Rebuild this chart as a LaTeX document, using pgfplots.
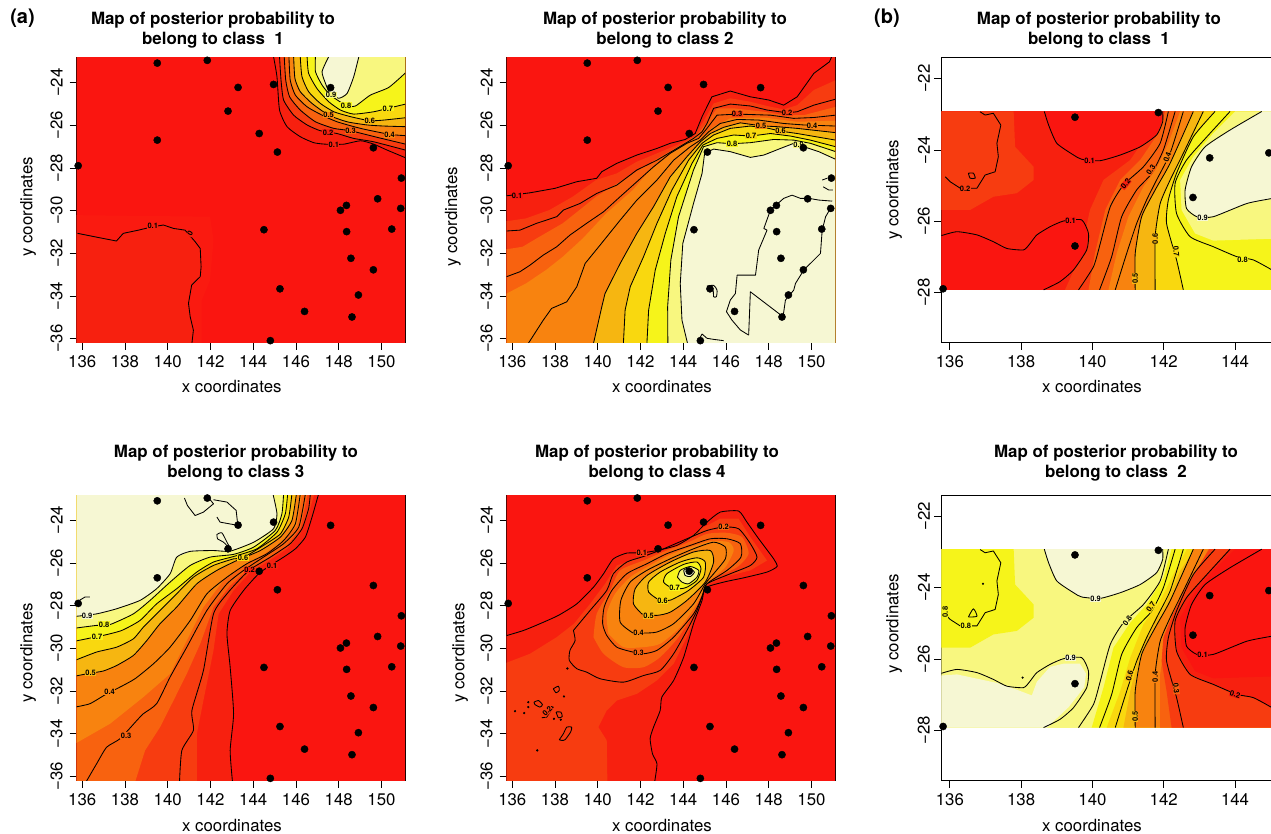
\documentclass[border=0pt]{standalone}
\usepackage{fontspec}
\setmainfont{TeX Gyre Heros}
\usepackage{pgfplots}
\pgfplotsset{compat=1.18}
\definecolor{cz}{HTML}{FA1510}
\definecolor{cy}{HTML}{FA1A10}
\definecolor{ca}{HTML}{F7200F}
\definecolor{cb}{HTML}{F73C10}
\definecolor{cc}{HTML}{F8620F}
\definecolor{cd}{HTML}{F8830F}
\definecolor{ce}{HTML}{F6B611}
\definecolor{cf}{HTML}{F9D80F}
\definecolor{cg}{HTML}{F6F41A}
\definecolor{ch}{HTML}{F8F77F}
\definecolor{ci}{HTML}{F6F7D3}
\newcommand{\lblfont}{\fontsize{16.8}{19}\selectfont}
\newcommand{\ttlfont}{\fontsize{16.9}{20}\selectfont\bfseries}
\newcommand{\ctrfont}{\fontsize{7.5}{8}\selectfont\bfseries}
\def\firstpt(#1)#2\firstptstop{(#1)}
\newcommand{\fillp}[2]{\edef\tmpplot{\noexpand\addplot[draw=none,fill=#1,forget plot] coordinates {#2} --cycle;}\tmpplot}
\newcommand{\fillc}[2]{\edef\tmpplot{\noexpand\addplot[draw=none,fill=#1,smooth,tension=.4,forget plot] coordinates {#2 \expandafter\firstpt#2\firstptstop};}\tmpplot}
\newcommand{\ctr}[1]{\edef\tmpplot{\noexpand\addplot[black,line width=.85pt,line join=round,smooth,tension=.35,forget plot] coordinates {#1};}\tmpplot}
\newcommand{\ctrs}[1]{\edef\tmpplot{\noexpand\addplot[black,line width=.85pt,line join=round,forget plot] coordinates {#1};}\tmpplot}
\newcommand{\ctrc}[1]{\edef\tmpplot{\noexpand\addplot[black,line width=.85pt,line join=round,smooth,tension=.4,forget plot] coordinates {#1 \expandafter\firstpt#1\firstptstop};}\tmpplot}
\newcommand{\pts}[1]{\edef\tmpplot{\noexpand\addplot[only marks,mark=*,mark size=3.6pt,black,forget plot] coordinates {#1};}\tmpplot}
\newcommand{\lab}[4][0]{\node[font=\ctrfont,fill=#2,inner sep=.4pt,rotate=#1] at (axis cs:#3) {#4};}
\pgfplotsset{
 pan/.style={scale only axis,anchor=south west,axis line style={line width=1pt},
  tick style={black,line width=.8pt},tick align=outside,major tick length=7pt,
  xtick pos=bottom,ytick pos=left,
  ticklabel style={font=\lblfont},
  yticklabel style={rotate=90,anchor=south},
  xticklabel shift=2.5pt,
  title style={font=\ttlfont,align=center,anchor=center},
  xlabel style={font=\lblfont,anchor=center},
  ylabel style={font=\lblfont,anchor=center},
  xlabel={x coordinates},ylabel={y coordinates}},
 apan/.style={pan,width=328.3pt,height=285pt,xmin=135.74,xmax=151.1,ymin=-36.2,ymax=-22.84,
  yticklabel shift=3.5pt,
  xtick={136,138,140,142,144,146,148,150},xticklabels={136,138,140,142,144,146,148,150},
  ytick={-36,-34,-32,-30,-28,-26,-24},yticklabels={−36,−34,−32,−30,−28,−26,−24}},
 bpan/.style={pan,width=329.7pt,height=285pt,xmin=135.76,xmax=145.01,ymin=-29.41,ymax=-21.42,
  yticklabel shift=1pt,
  xtick={136,138,140,142,144},xticklabels={136,138,140,142,144},
  ytick={-28,-26,-24,-22},yticklabels={−28,−26,−24,−22}}
}
% observation sites
\def\ptsA{(135.81,-27.89)(139.51,-23.08)(141.85,-22.95)(143.29,-24.22)(142.82,-25.33)(144.95,-24.08)(144.28,-26.38)(139.51,-26.69)(145.13,-27.25)(147.62,-24.23)(149.62,-27.05)(150.93,-28.47)(149.82,-29.44)(150.9,-29.89)(148.36,-29.75)(148.08,-29.98)(148.37,-30.98)(144.5,-30.89)(150.48,-30.86)(148.57,-32.23)(149.62,-32.77)(145.25,-33.66)(148.92,-33.95)(146.4,-34.72)(148.62,-34.98)(144.8,-36.09)}
\def\ptsB{(135.81,-27.89)(139.51,-23.08)(141.85,-22.95)(143.29,-24.22)(142.82,-25.33)(144.95,-24.08)(139.51,-26.69)}
\def\full{(135,-22)(152,-22)(152,-37)(135,-37)}
% ---- panel a, class 1
\def\aoneLow{(135.78,-31.06)(136.83,-31.27)(137.6,-31.42)(137.92,-31.06)(138.63,-30.91)(139.3,-30.75)(139.8,-30.67)(140.27,-30.83)(140.81,-30.91)(141.28,-31.45)(141.52,-31.77)(141.56,-32.63)(141.52,-33.09)(141.12,-33.48)(140.97,-34.34)(141.05,-34.97)(141.2,-35.6)(141.12,-36.3)}
\def\aoneA{(144.95,-22.78)(145.11,-23.72)(145.23,-25.28)(145.58,-26.06)(146.2,-26.53)(146.83,-26.81)(147.38,-26.88)(148.23,-26.88)(149.02,-26.72)(149.64,-26.88)(150.27,-27.16)(151.13,-27.52)}
\def\aoneB{(145.23,-22.78)(145.3,-23.88)(145.42,-24.81)(145.89,-25.52)(146.52,-25.98)(147.14,-26.25)(147.92,-26.38)(148.7,-26.61)(149.64,-26.77)(151.13,-27.16)}
\def\aoneC{(145.45,-22.78)(145.52,-23.88)(145.7,-24.66)(146.2,-25.28)(146.91,-25.83)(147.77,-26.14)(148.55,-26.25)(149.8,-26.56)(151.13,-26.88)}
\def\aoneD{(145.67,-22.78)(145.73,-23.88)(145.97,-24.58)(146.52,-25.13)(147.22,-25.52)(147.92,-25.83)(149.02,-26.14)(150.38,-26.42)(151.13,-26.48)}
\def\aoneE{(145.89,-22.78)(145.95,-23.8)(146.2,-24.42)(146.75,-24.97)(147.53,-25.52)(148.39,-25.83)(149.33,-25.98)(150.11,-26.03)(151.13,-26.06)}
\def\aoneF{(146.2,-22.78)(146.28,-23.72)(146.59,-24.42)(147.14,-24.97)(147.77,-25.36)(148.55,-25.59)(149.45,-25.78)(150.11,-25.75)(151.13,-25.64)}
\def\aoneG{(146.52,-22.78)(146.59,-23.56)(146.98,-24.27)(147.53,-24.89)(148.08,-25.28)(148.7,-25.47)(149.64,-25.36)(150.3,-25.2)(151.13,-25.0)}
\def\aoneH{(146.91,-22.78)(146.91,-23.48)(147.22,-24.11)(147.61,-24.58)(148.34,-25.06)(148.78,-25.09)(149.48,-24.58)(150.34,-24.22)(151.13,-23.53)}
\def\aoneI{(147.53,-22.78)(147.22,-23.48)(147.38,-24.03)(147.58,-24.47)(148.0,-24.73)(148.39,-24.5)(148.7,-23.72)(148.94,-22.78)}
% ---- panel a, class 2
\def\atwoA{(135.74,-29.3)(135.97,-29.27)(136.83,-29.16)(138.0,-28.95)(139.02,-28.64)(139.95,-28.48)(140.19,-28.17)(140.89,-27.78)(141.83,-27.39)(142.77,-27.08)(143.39,-26.84)(144.09,-26.66)(144.56,-26.38)(144.88,-25.59)(145.34,-24.66)(146.2,-24.39)(147.14,-24.66)(148.0,-24.81)(148.7,-25.05)(149.33,-24.66)(150.11,-23.56)(150.84,-23.02)(150.98,-22.7)}
\def\atwoB{(135.74,-30.95)(136.36,-30.91)(137.14,-30.59)(138.08,-30.28)(138.39,-29.97)(139.17,-29.66)(139.95,-29.19)(140.89,-28.8)(141.83,-28.09)(142.77,-27.63)(143.7,-27.08)(144.48,-26.61)(144.88,-26.3)(145.11,-25.91)(145.42,-25.2)(146.2,-25.0)(147.14,-25.09)(147.92,-25.28)(148.86,-25.41)(149.33,-25.36)(150.11,-25.05)(151.13,-24.77)}
\def\atwoC{(135.74,-33.09)(136.36,-32.86)(136.83,-32.55)(137.45,-32.08)(138.08,-31.69)(138.7,-31.14)(139.48,-30.59)(140.27,-30.05)(141.05,-29.34)(141.83,-28.64)(142.61,-27.94)(143.39,-27.31)(144.17,-26.84)(144.72,-26.61)(145.11,-26.14)(145.58,-25.52)(146.52,-25.47)(148.08,-25.52)(149.17,-25.67)(150.11,-25.63)(151.13,-25.52)}
\def\atwoD{(136.75,-36.22)(137.45,-35.13)(137.84,-34.58)(138.55,-34.27)(139.02,-33.56)(139.41,-32.47)(140.11,-31.61)(141.05,-30.44)(141.83,-29.5)(142.77,-28.56)(143.55,-27.63)(144.33,-27.0)(144.8,-26.69)(145.19,-26.3)(145.73,-25.91)(146.52,-25.72)(147.53,-25.75)(148.7,-25.91)(149.64,-25.98)(151.13,-26.03)}
\def\atwoE{(139.8,-36.22)(140.19,-34.5)(140.34,-33.88)(141.05,-32.47)(141.83,-31.06)(142.61,-29.81)(143.39,-28.41)(144.17,-27.47)(144.8,-26.77)(145.27,-26.38)(145.89,-26.09)(146.67,-25.88)(147.64,-26.02)(148.39,-26.06)(149.33,-26.14)(151.13,-26.34)}
\def\atwoF{(141.2,-36.22)(141.28,-34.66)(141.52,-33.56)(142.14,-32.16)(142.77,-30.59)(143.47,-29.03)(144.25,-27.63)(144.88,-26.84)(145.42,-26.45)(146.2,-26.14)(147.14,-26.03)(148.0,-26.14)(148.55,-26.27)(149.33,-26.38)(151.13,-26.69)}
\def\atwoG{(142.3,-36.22)(142.38,-34.66)(142.69,-32.78)(143.16,-31.06)(143.7,-29.34)(144.41,-27.78)(144.92,-26.92)(145.58,-26.61)(146.36,-26.45)(147.17,-26.5)(148.08,-26.38)(149.02,-26.5)(149.95,-26.69)(151.13,-27.0)}
\def\atwoH{(143.28,-36.22)(143.27,-34.5)(143.42,-32.31)(143.78,-30.28)(144.48,-28.09)(144.95,-27.0)(145.58,-26.81)(146.28,-26.86)(147.14,-26.81)(148.23,-26.66)(149.17,-26.69)(149.95,-26.84)(151.13,-27.23)}
\def\atwoI{(144.2,-36.22)(143.94,-35.13)(143.86,-33.41)(143.98,-31.53)(144.48,-29.66)(144.88,-28.25)(145.0,-27.31)(145.42,-27.11)(146.2,-27.23)(147.14,-27.5)(147.77,-27.39)(148.55,-27.08)(149.17,-26.84)(149.64,-27.0)(150.34,-27.23)(151.13,-27.59)}
\def\atwoBa{(135,-30.6)(136.64,-30.36)(137.73,-29.97)(138.83,-29.34)(139.92,-28.56)(140.89,-28.25)(141.83,-27.7)(142.77,-27.31)(143.7,-26.92)(144.48,-26.53)(145.03,-25.67)(145.42,-24.97)(146.2,-24.73)(147.14,-24.89)(147.92,-25.09)(148.7,-25.25)(149.33,-25.05)(150.11,-24.34)(151.13,-23.88)}
\def\atwoBb{(135,-31.92)(136.48,-31.69)(137.27,-31.22)(138.36,-30.59)(139.14,-29.97)(139.92,-29.34)(141.17,-28.56)(142.14,-27.94)(143.08,-27.39)(144.02,-26.84)(144.64,-26.45)(145.19,-25.75)(145.58,-25.2)(146.36,-25.2)(147.77,-25.36)(148.7,-25.52)(149.64,-25.52)(151.13,-25.13)}
\def\atwoBc{(135,-34.27)(136.64,-33.41)(137.58,-32.78)(138.36,-32.16)(139.3,-31.3)(140.39,-30.13)(141.64,-29.03)(142.45,-28.09)(143.39,-27.31)(144.33,-26.77)(144.88,-26.53)(145.42,-26.06)(146.2,-25.67)(147.77,-25.63)(149.33,-25.83)(151.13,-25.78)}
% ---- panel a, class 3
\def\athrA{(143.03,-36.27)(142.92,-34.78)(143.08,-33.06)(142.92,-30.88)(142.77,-29.31)(142.92,-28.22)(143.55,-27.28)(144.25,-26.5)(144.8,-26.11)(145.42,-25.72)(145.97,-25.33)(146.44,-24.78)(146.75,-23.84)(147.06,-22.75)}
\def\athrB{(140.55,-36.27)(140.66,-34.78)(141.2,-33.84)(141.13,-32.91)(141.67,-31.03)(142.14,-28.38)(142.77,-27.44)(143.55,-26.58)(144.02,-26.19)(144.8,-25.72)(145.73,-25.09)(146.28,-24.39)(146.59,-23.45)(146.67,-22.75)}
\def\athrC{(136.17,-36.27)(136.67,-35.41)(137.14,-34.63)(137.77,-34.23)(138.55,-33.38)(138.86,-33.06)(139.48,-32.59)(140.11,-31.34)(140.89,-29.94)(141.83,-28.22)(142.77,-26.97)(143.55,-26.34)(144.48,-25.72)(145.42,-25.09)(146.13,-24.31)(146.44,-22.75)}
\def\athrD{(135.66,-32.75)(136.36,-32.59)(137.14,-32.13)(137.77,-31.81)(138.47,-31.42)(139.33,-30.72)(140.11,-29.94)(141.05,-28.69)(141.83,-27.44)(142.77,-26.66)(143.7,-26.03)(144.64,-25.56)(145.42,-24.94)(145.97,-24.16)(146.2,-22.75)}
\def\athrE{(135.66,-31.3)(136.36,-31.16)(136.98,-31.06)(137.61,-30.8)(138.39,-30.33)(139.02,-29.63)(139.64,-28.84)(140.42,-28.06)(141.36,-26.97)(142.3,-26.34)(143.23,-25.88)(144.33,-25.41)(145.27,-24.78)(145.81,-24.0)(146.02,-22.75)}
\def\athrF{(135.66,-30.56)(136.67,-30.17)(137.61,-29.94)(138.39,-29.55)(138.86,-29.0)(139.33,-28.53)(140.27,-27.59)(141.2,-26.66)(142.14,-26.11)(143.08,-25.8)(143.52,-25.75)(144.48,-25.17)(145.27,-24.63)(145.66,-23.84)(145.81,-22.75)}
\def\athrG{(135.66,-29.66)(136.44,-29.5)(136.98,-29.39)(137.84,-29.16)(138.7,-28.69)(139.48,-27.91)(140.42,-27.2)(141.36,-26.42)(142.14,-25.95)(143.08,-25.69)(144.17,-25.33)(145.11,-24.55)(145.5,-23.69)(145.61,-22.75)}
\def\athrH{(135.66,-29.05)(136.67,-28.92)(137.3,-28.88)(138.39,-28.38)(139.17,-27.75)(140.11,-26.89)(141.05,-26.11)(141.98,-25.72)(143.08,-25.59)(144.02,-25.25)(145.03,-24.47)(145.34,-23.69)(145.42,-22.75)}
\def\athrI{(135.66,-28.5)(136.67,-28.38)(137.61,-28.14)(138.7,-27.75)(139.48,-27.2)(140.11,-26.5)(140.42,-25.72)(141.05,-25.45)(142.14,-25.41)(142.92,-25.44)(144.02,-25.02)(144.95,-24.39)(145.11,-23.69)(144.92,-22.75)}
\def\athrBa{(141.36,-36.27)(141.36,-34.0)(141.67,-32.44)(142.14,-30.09)(142.38,-28.38)(143.08,-27.28)(143.86,-26.42)(144.64,-25.95)(145.58,-25.33)(146.2,-24.63)(146.59,-23.69)(146.86,-22.75)}
\def\athrBb{(138.47,-36.27)(138.94,-34.78)(139.64,-33.69)(140.27,-32.44)(140.89,-31.19)(141.52,-29.78)(142.14,-28.06)(142.92,-27.05)(143.7,-26.34)(144.64,-25.8)(145.58,-25.17)(146.2,-24.39)(146.55,-22.75)}
\def\athrBc{(135.66,-34.47)(137.3,-33.53)(138.86,-32.28)(140.11,-31.19)(140.89,-29.63)(141.67,-28.06)(142.61,-26.81)(143.55,-26.11)(144.48,-25.59)(145.34,-25.02)(146.05,-24.23)(146.28,-22.75)}
% ---- panel a, class 4
\def\afouA{(135.66,-29.42)(136.52,-29.16)(137.3,-28.84)(138.16,-28.45)(139.02,-27.91)(139.8,-27.13)(140.27,-26.5)(140.73,-25.8)(141.36,-25.53)(142.06,-25.52)(142.77,-25.41)(143.7,-25.17)(144.48,-24.7)(145.11,-24.08)(145.73,-23.61)(146.59,-23.56)(146.98,-24.08)(147.53,-24.86)(148.23,-25.8)(148.39,-26.16)(147.92,-26.42)(146.83,-26.69)(145.89,-26.89)(145.03,-27.16)(144.88,-27.75)(144.48,-28.84)(144.02,-30.41)(143.55,-31.5)(143.0,-32.28)(142.92,-32.91)(142.61,-33.69)(142.45,-34.23)(142.56,-34.94)(142.77,-35.41)(142.66,-36.27)}
\def\afouB{(138.86,-29.16)(139.64,-28.22)(140.42,-27.28)(140.73,-26.5)(141.36,-25.95)(142.14,-25.69)(143.08,-25.33)(144.17,-24.86)(145.11,-24.47)(145.89,-24.31)(146.59,-24.39)(147.14,-25.09)(147.45,-25.72)(147.14,-26.11)(146.2,-26.5)(145.11,-26.97)(144.92,-27.44)(144.64,-28.22)(144.17,-29.16)(143.55,-30.25)(142.92,-31.03)(142.14,-31.27)(141.2,-31.58)(140.11,-31.42)(139.48,-31.11)(139.02,-30.95)(138.67,-30.56)(138.7,-30.09)(138.94,-29.63)}
\def\afouC{(141.64,-30.17)(140.89,-29.94)(140.42,-29.39)(140.23,-28.84)(140.3,-28.06)(140.66,-27.28)(141.36,-26.5)(142.3,-26.03)(143.23,-25.56)(144.33,-25.17)(145.27,-24.86)(146.05,-24.86)(146.67,-25.09)(146.7,-25.72)(146.05,-26.34)(145.11,-26.97)(144.88,-27.59)(144.48,-28.38)(143.55,-29.47)(142.77,-30.09)(142.14,-30.25)}
\def\afouD{(141.64,-29.27)(141.05,-28.77)(141.08,-27.75)(141.52,-26.89)(142.3,-26.34)(143.39,-25.8)(144.48,-25.33)(145.42,-25.02)(145.97,-25.25)(145.97,-25.8)(145.42,-26.5)(145.03,-26.97)(144.48,-27.91)(143.55,-28.84)(142.77,-29.23)(142.14,-29.28)}
\def\afouE{(142.06,-28.38)(141.67,-27.91)(141.75,-27.2)(142.3,-26.58)(143.39,-25.95)(144.48,-25.48)(145.27,-25.41)(145.42,-25.95)(145.03,-26.89)(144.17,-27.75)(143.39,-28.3)(142.77,-28.45)}
\def\afouF{(142.77,-27.67)(142.38,-27.36)(142.38,-26.89)(142.92,-26.42)(143.86,-25.95)(144.64,-25.75)(145.03,-25.95)(144.95,-26.66)(144.25,-27.28)(143.55,-27.67)(143.31,-27.75)}
\def\afouG{(143.39,-27.13)(143.08,-26.89)(143.23,-26.5)(144.02,-26.06)(144.64,-25.95)(144.83,-26.27)(144.64,-26.81)(144.17,-27.13)(143.86,-27.2)}
\def\afouH{(143.73,-26.66)(143.86,-26.34)(144.33,-26.16)(144.72,-26.34)(144.64,-26.66)(144.25,-26.97)(143.94,-26.89)}
\def\afouI{(144.02,-26.34)(144.25,-26.22)(144.52,-26.42)(144.33,-26.63)(144.09,-26.58)}
\def\afouBa{(135,-30.95)(136.83,-30.25)(138.08,-29.47)(138.89,-28.84)(139.64,-27.91)(140.34,-26.97)(140.89,-26.11)(141.83,-25.8)(142.92,-25.48)(144.02,-25.02)(144.8,-24.39)(145.73,-23.92)(146.59,-23.92)(147.14,-24.78)(147.92,-25.88)(147.14,-26.34)(145.89,-26.66)(145.03,-27.05)(144.72,-28.06)(144.17,-29.47)(143.55,-30.72)(142.77,-31.5)(141.83,-32.13)(140.89,-32.44)(140.42,-32.91)(140.03,-33.69)(140.42,-34.31)(140.45,-36.27)}
\def\afouBb{(139.8,-29.47)(139.95,-28.38)(140.58,-27.28)(141.05,-26.34)(142.14,-25.88)(143.16,-25.44)(144.25,-25.02)(145.11,-24.63)(146.05,-24.58)(146.75,-24.78)(147.06,-25.56)(146.52,-26.19)(145.42,-26.73)(144.95,-27.2)(144.56,-28.22)(143.78,-29.47)(142.92,-30.41)(142.14,-30.88)(141.2,-30.88)(140.27,-30.25)}
\def\afouBc{(140.5,-29.31)(140.42,-28.38)(140.81,-27.44)(141.52,-26.66)(142.3,-26.19)(143.31,-25.64)(144.33,-25.25)(145.27,-24.97)(146.13,-25.02)(146.36,-25.41)(145.97,-26.19)(145.19,-26.89)(144.64,-27.91)(143.86,-29.0)(142.92,-29.78)(142.14,-29.94)(141.2,-29.94)}
% ---- panel b, contours of class 1 (class 2 is the complement)
\def\bTop{(138.65,-22.92)(138.77,-23.3)(139.0,-23.81)(139.47,-24.14)(139.7,-24.26)(140.21,-24.3)(140.78,-24.14)(141.34,-23.91)(141.8,-23.58)(141.97,-23.21)(141.97,-22.92)}
\def\bLow{(135.76,-26.4)(136.2,-26.29)(136.76,-26.38)(137.22,-26.57)(137.6,-26.76)(138.07,-26.8)(138.25,-26.62)(138.44,-26.38)(138.81,-26.15)(139.19,-25.99)(139.7,-25.96)(139.89,-26.34)(139.84,-26.8)(139.47,-27.36)(139.09,-27.69)(138.63,-27.92)}
\def\bWig{(136.85,-22.93)(136.99,-23.02)(137.22,-22.97)(137.43,-23.3)(137.32,-23.81)(137.36,-24.19)(137.27,-24.61)(136.99,-24.7)(136.76,-25.07)(136.29,-25.07)(136.01,-24.89)(135.87,-24.75)}
\def\bB{(139.61,-27.92)(140.03,-27.27)(140.22,-26.62)(140.5,-25.59)(140.87,-24.98)(141.43,-24.47)(141.9,-23.81)(142.13,-22.92)}
\def\bC{(140.2,-27.92)(140.54,-26.99)(140.82,-25.87)(141.24,-25.12)(141.66,-24.66)(141.99,-24.0)(142.32,-22.92)}
\def\bD{(140.64,-27.92)(140.96,-26.9)(141.24,-26.06)(141.52,-25.4)(141.8,-24.84)(142.18,-24.09)(142.55,-22.92)}
\def\bE{(141.2,-27.92)(141.2,-26.9)(141.38,-25.87)(141.76,-25.12)(142.18,-24.37)(142.83,-22.92)}
\def\bF{(141.76,-27.92)(141.76,-26.43)(141.9,-25.5)(142.18,-24.84)(142.55,-24.09)(143.11,-22.92)}
\def\bG{(142.55,-27.92)(142.36,-27.08)(142.08,-26.06)(142.13,-25.4)(142.36,-24.65)(142.83,-23.63)(143.44,-22.92)}
\def\bH{(145.26,-27.55)(145.03,-27.36)(144.51,-27.08)(144.05,-26.99)(143.39,-26.71)(142.74,-26.43)(142.36,-25.78)(142.32,-24.93)(142.64,-24.28)(143.21,-23.63)(143.86,-22.92)}
\def\bI{(145.26,-25.33)(145.03,-25.36)(144.33,-25.5)(143.39,-25.87)(142.93,-25.87)(142.64,-25.64)(142.6,-25.12)(142.78,-24.47)(143.16,-23.91)(143.86,-23.44)(144.75,-22.92)}
\def\bUL{(135,-22.92)(137.79,-22.92)(137.83,-23.91)(138.35,-24.47)(138.35,-24.84)(137.88,-25.21)(137.22,-25.31)(136.57,-25.68)(135,-25.68)}
\def\bFa{(139.23,-27.92)(139.65,-26.99)(139.93,-25.68)(140.31,-24.84)(141.06,-24.28)(141.57,-23.53)(141.76,-22.92)}
\def\bFb{(139.89,-27.92)(140.07,-26.9)(140.36,-25.68)(140.78,-24.84)(141.34,-24.28)(141.85,-23.53)(142.04,-22.92)}
\def\bFc{(140.45,-27.92)(140.68,-26.9)(141.01,-25.87)(141.43,-25.03)(141.8,-24.51)(142.13,-23.81)(142.46,-22.92)}
\def\bFh{(145.26,-26.48)(143.39,-26.54)(142.88,-26.34)(142.5,-25.68)(142.46,-24.84)(142.83,-24.19)(143.39,-23.53)(144.0,-22.92)}
\def\bBand{(135,-22.92)(146,-22.92)(146,-27.92)(135,-27.92)}
\def\bRt{(146,-22.92)(146,-27.92)}
\def\cLow{(135.77,-26.46)(136.2,-26.43)(136.76,-26.55)(137.32,-26.67)(137.88,-26.86)(138.3,-27.02)(138.44,-26.64)(138.81,-26.22)(139.19,-26.13)(139.65,-26.13)(139.82,-26.41)(139.77,-26.79)(139.33,-27.35)(138.72,-27.92)(135,-27.92)(135,-26.46)}
\def\cFb{(139.98,-27.92)(140.31,-26.8)(140.59,-25.68)(141.06,-24.98)(141.52,-24.47)(141.99,-23.72)(142.22,-22.92)}
\def\cFc{(140.4,-27.92)(140.78,-26.9)(141.06,-25.96)(141.43,-25.03)(141.9,-24.37)(142.32,-23.53)(142.65,-22.92)}
\def\cFd{(140.87,-27.92)(141.06,-26.9)(141.29,-25.96)(141.66,-25.12)(142.04,-24.47)(142.46,-23.53)(142.88,-22.92)}
\def\cFf{(141.9,-27.92)(141.9,-26.43)(142.04,-25.5)(142.32,-24.84)(142.69,-24.09)(143.25,-22.92)}
\def\cFg{(142.22,-27.92)(142.08,-26.9)(141.94,-26.06)(141.99,-25.4)(142.25,-24.75)(142.69,-23.86)(143.28,-22.92)}
\newcommand{\blines}{%
 \ctr{\bTop}\ctr{\bLow}\ctrs{\bWig}\ctr{\bB}\ctr{\bC}\ctr{\bD}\ctr{\bE}\ctr{\bF}\ctr{\bG}\ctr{\bH}\ctr{\bI}}
\begin{document}
\begin{tikzpicture}
\path[use as bounding box] (0,0) rectangle (1271pt,834pt);
\node[font=\fontsize{20}{22}\selectfont\bfseries] at (22.5pt,816pt) {(a)};
\node[font=\fontsize{20}{22}\selectfont\bfseries] at (887pt,816pt) {(b)};
% ---------- a1
\begin{axis}[apan,at={(76.7pt,491pt)},
 title={Map of posterior probability to\\belong to class\ \ 1},
 title style={at={(axis description cs:.415,1.077)}},
 xlabel style={at={(axis description cs:.472,-.154)}},
 ylabel style={at={(axis description cs:-.148,.478)}}]
\fillp{cz}{\full}
\fillp{cy}{(135,-30.2)(141.98,-30.28)(142.14,-31.38)(141.98,-33.25)(141.59,-34.19)(141.59,-37)(135,-37)}
\fillp{ca}{\aoneLow (135,-37)(135,-31.06)}
\fillp{ca}{\aoneA (152,-27.52)(152,-22)(144.95,-22)}
\fillp{cb}{\aoneB (152,-27.16)(152,-22)(145.23,-22)}
\fillp{cc}{\aoneC (152,-26.88)(152,-22)(145.45,-22)}
\fillp{cd}{\aoneD (152,-26.48)(152,-22)(145.67,-22)}
\fillp{ce}{\aoneE (152,-26.06)(152,-22)(145.89,-22)}
\fillp{cf}{\aoneF (152,-25.64)(152,-22)(146.2,-22)}
\fillp{cg}{\aoneG (152,-25)(152,-22)(146.52,-22)}
\fillp{ch}{\aoneH (152,-23.53)(152,-22)(146.91,-22)}
\fillp{ci}{\aoneI}
\ctrs{\aoneLow}\ctr{\aoneA}\ctr{\aoneB}\ctr{\aoneC}\ctr{\aoneD}\ctr{\aoneE}\ctr{\aoneF}\ctr{\aoneG}\ctr{\aoneH}\ctr{\aoneI}
\lab{ca}{139.3,-30.72}{0.1}\lab[60]{ca}{141.05,-31.08}{0}
\lab{ca}{147.77,-26.89}{0.1}\lab{ca}{147.5,-26.33}{0.2}\lab{cc}{148.55,-26.25}{0.3}\lab{cd}{150.38,-26.42}{0.4}
\lab{cd}{147.53,-25.52}{0.5}\lab{ce}{149.45,-25.78}{0.6}\lab{cg}{150.3,-25.2}{0.7}\lab{cg}{148.34,-25.06}{0.8}\lab{ch}{147.64,-24.56}{0.9}
\pts{\ptsA}
\end{axis}
% ---------- a2
\begin{axis}[apan,at={(506.7pt,491pt)},
 title={Map of posterior probability to\\belong to class 2},
 title style={at={(axis description cs:.482,1.077)}},
 xlabel style={at={(axis description cs:.473,-.154)}},
 ylabel style={at={(axis description cs:-.164,.443)}}]
\fillp{cz}{\full}
\fillp{ca}{\atwoA (152,-22.7)(152,-37)(135,-37)(135,-29.3)}
\fillp{cb}{\atwoBa (152,-23.88)(152,-37)(135,-37)}
\fillp{cc}{\atwoBb (152,-25.13)(152,-37)(135,-37)}
\fillp{cd}{\atwoBc (152,-25.78)(152,-37)(135,-37)}
\fillp{ce}{\atwoE (152,-26.34)(152,-37)}
\fillp{cf}{\atwoF (152,-26.69)(152,-37)}
\fillp{cg}{\atwoG (152,-27)(152,-37)}
\fillp{ch}{\atwoH (152,-27.23)(152,-37)}
\fillp{ci}{\atwoI (152,-27.59)(152,-37)}
\ctrs{\atwoA}\ctrs{\atwoB}\ctrs{\atwoC}\ctrs{\atwoD}\ctrs{\atwoE}\ctrs{\atwoF}\ctrs{\atwoG}\ctrs{\atwoH}\ctrs{\atwoI}
\ctrs{(147.06,-35.83)(146.67,-35.59)(146.28,-35.13)(146.02,-34.73)(146.2,-34.19)(146.44,-33.88)(146.52,-33.02)(147.38,-33.02)(147.53,-31.84)(147.92,-30.91)(147.77,-30.83)(148.08,-29.97)(148.7,-29.42)(149.09,-29.27)(149.48,-29.42)(149.88,-29.42)(150.34,-29.5)(150.97,-29.55)}
\ctrs{(150.89,-29.89)(150.66,-30.28)(150.5,-30.91)(150.42,-32.0)(149.64,-32.78)(149.25,-33.41)(149.17,-33.72)(148.78,-34.19)(148.67,-34.97)(147.14,-33.8)(147.06,-35.83)}
\ctrs{(150.5,-28.56)(150.73,-28.48)}\ctrs{(150.55,-28.88)(150.81,-29.03)(151.0,-29.03)}
\ctrc{(145.11,-33.53)(145.42,-33.5)(145.58,-33.72)(145.55,-34.03)(145.42,-34.03)(145.39,-33.72)}
\ctrs{(144.77,-35.98)(144.88,-35.78)(145.11,-35.98)(145.42,-36.03)(145.89,-36.09)}
\lab{cz}{136.23,-29.3}{0.1}\lab{cb}{148.86,-25.41}{0.2}\lab{cb}{146.52,-25.47}{0.3}\lab{cd}{150.03,-26.0}{0.4}
\lab{cd}{147.64,-26.02}{0.5}\lab{ce}{148.55,-26.27}{0.6}\lab{cf}{147.17,-26.5}{0.7}\lab{cg}{146.28,-26.86}{0.8}\lab{ch}{149.4,-26.92}{0.9}
\pts{\ptsA}
\end{axis}
% ---------- a3
\begin{axis}[apan,at={(76.7pt,53.3pt)},
 title={Map of posterior probability to\\belong to class 3},
 title style={at={(axis description cs:.485,1.095)}},
 xlabel style={at={(axis description cs:.473,-.158)}},
 ylabel style={at={(axis description cs:-.148,.449)}}]
\fillp{cz}{\full}
\fillp{ca}{\athrA (135,-22)(135,-37)}
\fillp{cb}{\athrBa (135,-22)(135,-37)}
\fillp{cc}{\athrBb (135,-22)(135,-37)}
\fillp{cd}{\athrBc (135,-22)}
\fillp{ce}{\athrE (135,-22)}
\fillp{cf}{\athrF (135,-22)}
\fillp{cg}{\athrG (135,-22)}
\fillp{ch}{\athrH (135,-22)}
\fillp{ci}{\athrI (135,-22)}
\ctr{\athrA}\ctr{\athrB}\ctr{\athrC}\ctr{\athrD}\ctr{\athrE}\ctr{\athrF}\ctr{\athrG}\ctr{\athrH}\ctr{\athrI}
\ctrs{(140.78,-22.95)(140.92,-23.3)(141.28,-23.77)(141.67,-23.61)(142.14,-23.22)(141.91,-22.94)}
\ctrs{(142.14,-23.03)(142.77,-23.14)(143.2,-23.53)(143.27,-24.16)}
\ctrs{(142.3,-23.84)(142.45,-24.08)(143.27,-24.23)}
\ctrc{(142.3,-24.66)(142.53,-24.58)(142.77,-25.02)(142.92,-25.33)(142.61,-25.02)(142.33,-24.86)}
\ctrs{(135.86,-27.75)(136.13,-27.59)(136.36,-27.59)}
\lab{ca}{144.88,-26.11}{0.1}\lab{ca}{143.83,-26.31}{0.2}\lab{cf}{143.52,-25.75}{0.6}
\lab{ci}{136.23,-28.45}{0.9}\lab{cg}{137.02,-28.88}{0.8}\lab{cg}{136.69,-29.47}{0.7}\lab{ce}{136.39,-31.16}{0.5}\lab{cd}{137.28,-32.05}{0.4}\lab{cc}{138.05,-34.08}{0.3}
\pts{\ptsA}
\end{axis}
% ---------- a4
\begin{axis}[apan,at={(506.7pt,53.3pt)},
 title={Map of posterior probability to\\belong to class 4},
 title style={at={(axis description cs:.458,1.095)}},
 xlabel style={at={(axis description cs:.473,-.158)}},
 ylabel style={at={(axis description cs:-.142,.449)}}]
\fillp{cz}{\full}
\fillp{ca}{\afouA (135,-37)(135,-29.42)}
\fillp{cb}{\afouBa (135,-37)}
\fillc{cc}{\afouBb}
\fillc{cd}{\afouBc}
\fillc{ce}{\afouE}
\fillc{cf}{\afouF}
\fillc{cg}{\afouG}
\fillc{ch}{\afouH}
\fillc{ci}{\afouI}
\ctr{\afouA}\ctrc{\afouB}\ctrc{\afouC}\ctrc{\afouD}\ctrc{\afouE}\ctrc{\afouF}\ctrc{\afouG}\ctrc{\afouH}\ctrc{\afouI}
\ctrc{(137.92,-31.89)(138.16,-31.77)(138.2,-31.97)(138.05,-32.08)}
\ctrc{(137.02,-32.52)(137.22,-32.44)(137.41,-32.63)(137.3,-32.75)(137.06,-32.63)}
\ctrs{(137.38,-33.25)(137.61,-33.22)(137.92,-32.75)(137.8,-32.72)}
\ctrc{(138.05,-32.98)(138.27,-32.98)(138.34,-33.19)(138.16,-33.25)}
\ctrc{(138.2,-34.28)(138.39,-34.0)(138.55,-33.69)(138.78,-33.69)(138.73,-33.92)(138.47,-34.28)(138.31,-34.31)}
\addplot[only marks,mark=*,mark size=.9pt,black,forget plot] coordinates {(138.58,-30.94)(138.42,-32.25)(136.75,-32.52)(136.75,-32.75)(136.56,-33.03)(136.13,-32.94)(137.95,-33.3)(138.27,-33.34)(137.17,-34.78)};
\lab{cb}{142.06,-25.52}{0.1}\lab{cc}{145.89,-24.31}{0.2}\lab{cc}{141.91,-30.2}{0.3}\lab{cd}{141.91,-29.27}{0.4}
\lab{ce}{142.38,-28.45}{0.5}\lab{cf}{143.03,-27.75}{0.6}\lab{cg}{143.59,-27.16}{0.7}\lab[45]{cb}{137.64,-32.94}{0.2}
\pts{\ptsA}
\end{axis}
% ---------- b1
\begin{axis}[bpan,at={(941.3pt,491pt)},
 title={Map of posterior probability to\\belong to class\ \ 1},
 title style={at={(axis description cs:.478,1.077)}},
 xlabel style={at={(axis description cs:.457,-.154)}},
 ylabel style={at={(axis description cs:-.143,.537)}}]
\fillp{ca}{\bBand}
\fillp{cb}{\bFa \bRt}
\fillp{cb}{\bUL}
\fillp{cz}{\bLow (135,-27.92)(135,-26.4)}
\fillp{cz}{\bTop}
\fillp{cc}{\bFb \bRt}
\fillp{cd}{\bFc \bRt}
\fillp{ce}{\bE \bRt}
\fillp{cf}{\bF \bRt}
\fillp{cg}{\bG \bRt}
\fillp{ch}{\bFh (146,-22.92)}
\fillp{ci}{\bI (146,-22.92)}
\blines
\ctrc{(136.52,-24.65)(136.66,-24.65)(136.71,-24.79)(136.57,-24.79)}
\lab{cz}{139.92,-24.3}{0.1}\lab{cz}{139.39,-25.98}{0.1}\lab{cb}{136.43,-25.08}{0.2}
\lab[50]{ca}{140.93,-24.95}{0.2}\lab[55]{cc}{141.64,-24.56}{0.3}\lab[70]{cd}{142.1,-24.2}{0.4}
\lab[90]{ce}{141.2,-27.6}{0.5}\lab[90]{ce}{141.76,-26.49}{0.6}\lab[-85]{cf}{142.35,-26.85}{0.7}\lab{cg}{144.21,-27.08}{0.8}\lab{ci}{143.09,-25.89}{0.9}
\pts{\ptsB}
\end{axis}
% ---------- b2
\begin{axis}[bpan,at={(941.3pt,53.3pt)},
 title={Map of posterior probability to\\belong to class\ \ 2},
 title style={at={(axis description cs:.530,1.095)}},
 xlabel style={at={(axis description cs:.457,-.158)}},
 ylabel style={at={(axis description cs:-.143,.550)}}]
\fillp{ch}{\bBand}
\fillp{cg}{\bUL}
\fillp{ci}{\bTop}
\fillp{ci}{\cLow}
\fillp{cg}{\cFb \bRt}
\fillp{cf}{\cFc \bRt}
\fillp{ce}{\cFd \bRt}
\fillp{cd}{\bE \bRt}
\fillp{cc}{\cFf \bRt}
\fillp{cb}{\cFg \bRt}
\fillp{ca}{\bH (146,-22.92)}
\fillp{cz}{\bFh (146,-22.92)}
\blines
\ctrc{(136.52,-24.82)(136.66,-24.59)(136.76,-24.8)}
\addplot[only marks,mark=*,mark size=.9pt,black,forget plot] coordinates {(136.93,-23.89)(138.04,-26.52)};
\lab{ci}{140.09,-24.31}{0.9}\lab{ci}{139.39,-25.97}{0.9}\lab{cg}{136.45,-25.07}{0.8}\lab[90]{cg}{135.87,-24.68}{0.8}
\lab[55]{ch}{140.98,-24.92}{0.8}\lab[55]{cf}{141.64,-24.54}{0.7}\lab[75]{ce}{141.04,-26.46}{0.6}\lab[90]{ce}{141.2,-27.61}{0.5}
\lab[90]{cd}{141.76,-26.5}{0.4}\lab[-85]{cc}{142.35,-26.83}{0.3}\lab[-15]{ca}{144.0,-26.99}{0.2}\lab{cz}{143.09,-25.89}{0.1}
\pts{\ptsB}
\end{axis}
\end{tikzpicture}
\end{document}
